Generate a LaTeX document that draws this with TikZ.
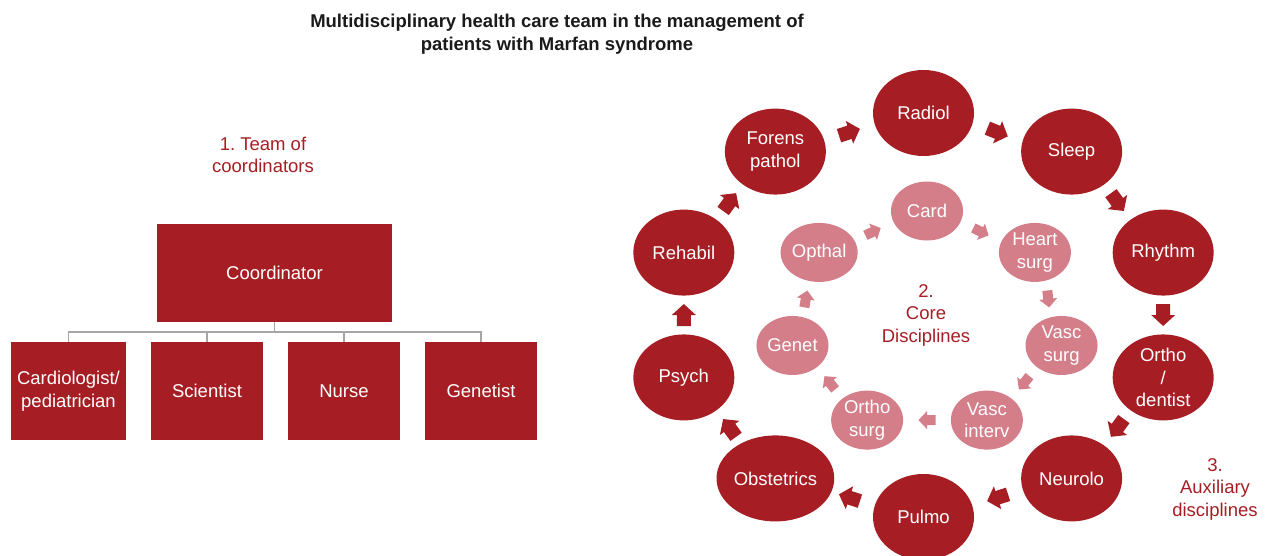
\documentclass[tikz,border=0pt]{standalone}
\usepackage{fontspec}
\setmainfont{Liberation Sans}
\usetikzlibrary{calc,shapes.geometric}
\definecolor{mred}{HTML}{A61E24}
\definecolor{mpink}{HTML}{D47E8A}
\definecolor{mgray}{HTML}{A6A6A6}
\definecolor{mtitle}{HTML}{1A1A1A}
\frenchspacing
\begin{document}
\begin{tikzpicture}[x=1pt,y=-1pt,
  txt/.style={font=\fontsize{18.5}{22.5}\selectfont, align=center, inner sep=0pt},
  box/.style={txt, fill=mred, text=white, minimum height=98pt},
  outer/.style={txt, ellipse, fill=mred, text=white, minimum width=101pt, minimum height=86pt},
  inner/.style={txt, ellipse, fill=mpink, text=white, minimum width=72pt, minimum height=59pt},
  lbl/.style={txt, text=mred},
  link/.style={draw=mgray, line width=1.5pt},
  oarrow/.pic={\fill[mred] (-11,-7) -- (0,-7) -- (0,-12) -- (11,0) -- (0,12) -- (0,7) -- (-11,7) -- cycle;},
  iarrow/.pic={\fill[mpink] (-8.5,-5) -- (0,-5) -- (0,-9) -- (8.5,0) -- (0,9) -- (0,5) -- (-8.5,5) -- cycle;}
]
\useasboundingbox (0,0) rectangle (1265,556);

% title
\node[txt, font=\bfseries\fontsize{18.5}{23}\selectfont, text=mtitle] (title) at (557,34.5)
  {Multidisciplinary health care team in the management of\\patients with Marfan syndrome};

% left: team of coordinators
\node[lbl] (l1) at (263,155) {1. Team of\\coordinators};
\node[box, minimum width=235pt] (coord) at (274.5,273) {Coordinator};
\node[box, minimum width=115pt] (c1) at (68.5,391) {Cardiologist/\\pediatrician};
\node[box, minimum width=112pt] (c2) at (207,391) {Scientist};
\node[box, minimum width=112pt] (c3) at (344,391) {Nurse};
\node[box, minimum width=112pt] (c4) at (481,391) {Genetist};
\foreach \c in {c1,c2,c3,c4}
  \draw[link] (coord.south) -- ++(0,10) -| (\c.north);

% outer ring
\foreach \n/\a/\t in {rad/90/{Radiol}, sle/54/{Sleep}, rhy/18/{Rhythm}, ort/-18/{Ortho\\/\\dentist},
    neu/-54/{Neurolo}, pul/-90/{Pulmo}, obs/-126/{Obstetrics}, psy/-162/{Psych},
    reh/162/{Rehabil}, for/126/{Forens\\pathol}}
  \node[outer] (\n) at ({923.5+252*cos(\a)},{315-202*sin(\a)}) {\t};
\foreach \p/\q/\r in {for/rad/18, rad/sle/-22, sle/rhy/-54, rhy/ort/-90, ort/neu/-126,
    neu/pul/-162, pul/obs/162, obs/psy/126, psy/reh/90, reh/for/54}
  \pic[rotate=\r] at ($(\p)!0.5!(\q)$) {oarrow};

% inner ring
\foreach \n/\a/\t in {card/90/{Card}, hea/38.57/{Heart\\surg}, vsu/-12.86/{Vasc\\surg},
    vin/-64.29/{Vasc\\interv}, osu/-115.71/{Ortho\\surg}, gen/-167.14/{Genet}, opt/141.43/{Opthal}}
  \node[inner] (\n) at ({927+138*cos(\a)},{321-110*sin(\a)}) {\t};
\foreach \p/\q/\r in {card/hea/-25.71, hea/vsu/-84, vsu/vin/-128.57, vin/osu/180,
    osu/gen/128.57, gen/opt/80, opt/card/25.71}
  \pic[rotate=\r] at ($(\p)!0.5!(\q)$) {iarrow};

\node[lbl] (l2) at (926,315) {2.\\Core\\Disciplines};
\node[lbl] (l3) at (1215,489) {3.\\Auxiliary\\disciplines};
\end{tikzpicture}
\end{document}
